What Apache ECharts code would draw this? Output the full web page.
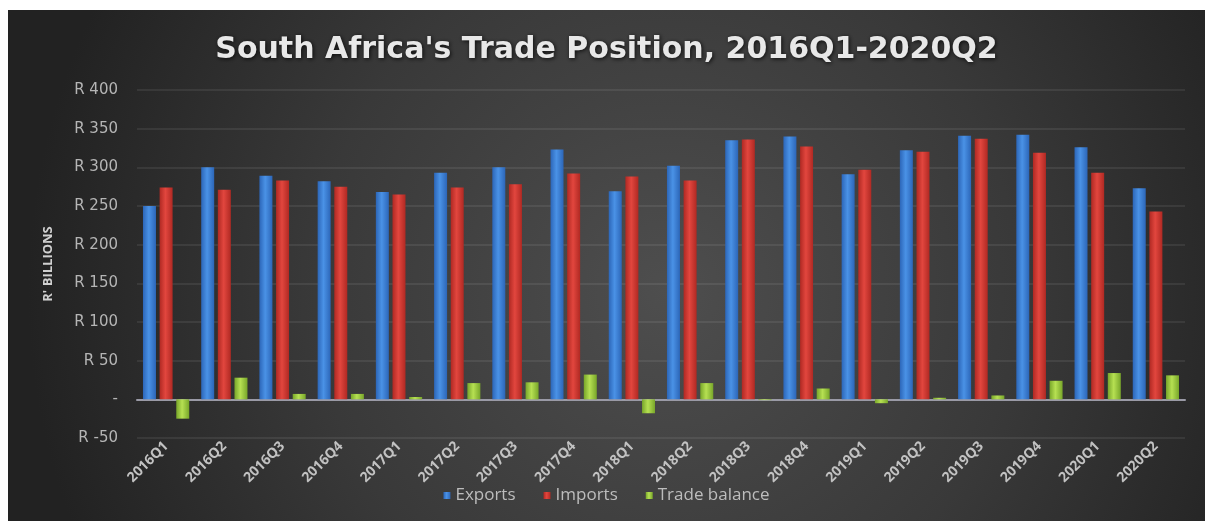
<!DOCTYPE html>
<html>
<head>
<meta charset="utf-8">
<script src="https://cdn.jsdelivr.net/npm/echarts@6/dist/echarts.min.js"></script>
<style>
  html, body { margin: 0; padding: 0; background: #ffffff; width: 1205px; height: 521px; overflow: hidden; }
  #chart { position: absolute; left: 8px; top: 10px; width: 1197px; height: 511px; }
</style>
</head>
<body>
<div id="chart"></div>
<script>
const categories = ['2016Q1','2016Q2','2016Q3','2016Q4','2017Q1','2017Q2','2017Q3','2017Q4','2018Q1','2018Q2','2018Q3','2018Q4','2019Q1','2019Q2','2019Q3','2019Q4','2020Q1','2020Q2'];
const exportsData = [250, 300, 289, 282, 268, 293, 300, 323, 269, 302, 335, 340, 291, 322, 341, 342, 326, 273];
const importsData = [274, 271, 283, 275, 265, 274, 278, 292, 288, 283, 336, 327, 297, 320, 337, 319, 293, 243];
const balanceData = [-25, 28, 7, 7, 3, 21, 22, 32, -18, 21, -1, 14, -5, 2, 5, 24, 34, 31];
const yTicks = { min: -50, max: 400, interval: 50 };

function barGrad(edge, mid) {
  return { type: 'linear', x: 0, y: 0, x2: 1, y2: 0,
    colorStops: [{ offset: 0, color: edge }, { offset: 0.45, color: mid }, { offset: 1, color: edge }] };
}

const chart = echarts.init(document.getElementById('chart'), null, { renderer: 'canvas' });
chart.setOption({
  backgroundColor: { type: 'radial', x: 0.55, y: 0.55, r: 1.25,
    colorStops: [{ offset: 0, color: '#4e4e4e' }, { offset: 0.55, color: '#393939' }, { offset: 1, color: '#222222' }] },
  animation: false,
  title: {
    text: "South Africa's Trade Position, 2016Q1-2020Q2",
    left: 'center', top: 20,
    textStyle: { color: '#e8e8e8', fontFamily: 'DejaVu Sans', fontWeight: 'bold', fontSize: 30,
      textShadowColor: 'rgba(0,0,0,0.8)', textShadowBlur: 4, textShadowOffsetX: 1, textShadowOffsetY: 1 }
  },
  legend: {
    bottom: 12, left: 'center', itemWidth: 7, itemHeight: 7, itemGap: 28, icon: 'rect',
    textStyle: { color: '#bdbdbd', fontFamily: 'Open Sans', fontSize: 17 },
    data: ['Exports', 'Imports', 'Trade balance']
  },
  grid: { left: 129, right: 20, top: 80, bottom: 83 },
  xAxis: {
    type: 'category', data: categories,
    axisLine: { onZero: true, lineStyle: { color: '#9a9aa6', width: 2 } },
    axisTick: { show: false },
    axisLabel: { rotate: 45, interval: 0, margin: 6, color: '#c2c2c2', fontFamily: 'Open Sans', fontWeight: 'bold', fontSize: 14 }
  },
  yAxis: {
    type: 'value', min: yTicks.min, max: yTicks.max, interval: yTicks.interval,
    name: "R' BILLIONS", nameLocation: 'middle', nameGap: 82, nameRotate: 90,
    nameTextStyle: { color: '#d0d0d0', fontFamily: 'Open Sans', fontWeight: 'bold', fontSize: 13 },
    axisLine: { show: false }, axisTick: { show: false },
    axisLabel: { margin: 19, color: '#b5b5b5', fontFamily: 'DejaVu Sans', fontSize: 15,
      formatter: v => v === 0 ? '-' : 'R ' + v },
    splitLine: { lineStyle: { color: 'rgba(255,255,255,0.10)', width: 1.5 } }
  },
  series: [
    { name: 'Exports', type: 'bar', data: exportsData, barWidth: 13, barGap: '28%',
      itemStyle: { color: barGrad('#2c66b8', '#4a92e6') } },
    { name: 'Imports', type: 'bar', data: importsData, barWidth: 13, barGap: '28%',
      itemStyle: { color: barGrad('#b02923', '#e2463e') } },
    { name: 'Trade balance', type: 'bar', data: balanceData, barWidth: 13, barGap: '28%',
      itemStyle: { color: barGrad('#78a62a', '#b6e052') } }
  ]
});
</script>
</body>
</html>
